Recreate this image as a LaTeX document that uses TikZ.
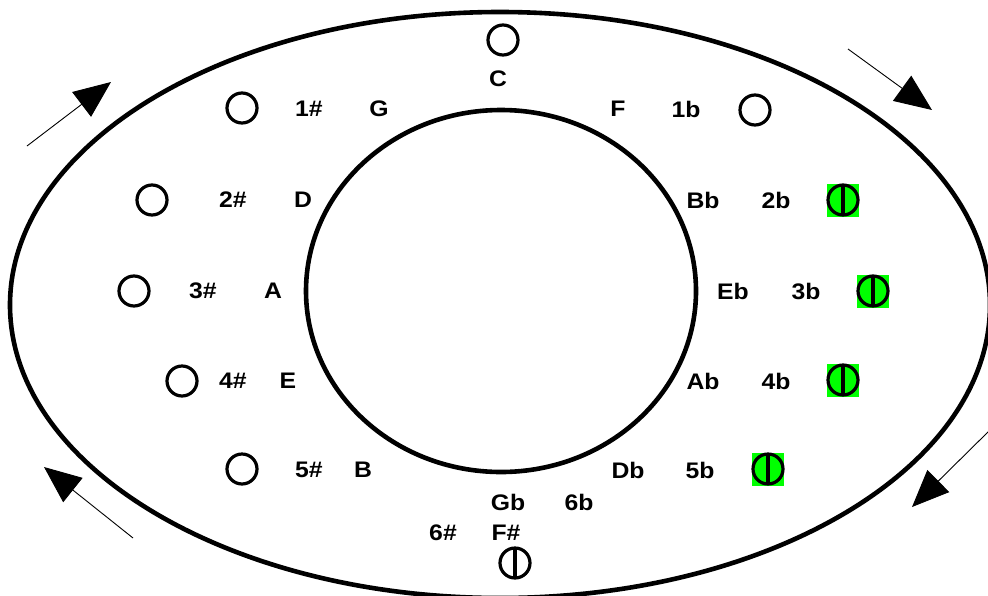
\documentclass[tikz,border=0pt]{standalone}
\usepackage{fontspec}
\setmainfont{Liberation Sans}
\newfontfamily\lblfont{Liberation Sans}[FakeStretch=1.1]
\usetikzlibrary{arrows.meta}
\begin{document}
\begin{tikzpicture}[x=1pt,y=-1pt,
  lbl/.style={font=\lblfont\bfseries\fontsize{22.5}{22.5}\selectfont, inner sep=0pt, anchor=center},
  keyring/.style={circle, draw, line width=3.2pt, minimum size=30pt, inner sep=0pt},
  keyflat/.style={keyring, path picture={\draw[line width=3.5pt] (path picture bounding box.north) -- (path picture bounding box.south);}},
  greenflat/.style={keyflat, fill=green},
  dirarrow/.style={line width=0.9pt, -{Triangle[length=37pt,width=31pt]}}]
\useasboundingbox (0,0) rectangle (988,595);

% outer and inner rings
\draw[line width=4.6pt] (500,305) ellipse [x radius=490, y radius=293];
\draw[line width=4.6pt] (501,291) ellipse [x radius=195, y radius=181];

% key markers
\node[keyring] (kC) at (503,40) {};
\node[keyring] (s1) at (242,108) {};
\node[keyring] (s2) at (152,200) {};
\node[keyring] (s3) at (134,291) {};
\node[keyring] (s4) at (182,381) {};
\node[keyring] (s5) at (242,469) {};
\node[keyring] (f1) at (755,110) {};
\fill[green] (827,184) rectangle (859,217);
\node[greenflat] (f2) at (843,200) {};
\fill[green] (857,275) rectangle (889,308);
\node[greenflat] (f3) at (873,291) {};
\fill[green] (827,364) rectangle (859,397);
\node[greenflat] (f4) at (843,380) {};
\fill[green] (752,453) rectangle (784,486);
\node[greenflat] (f5) at (768,469) {};
\node[keyflat] (k6) at (515,563) {};

% labels
\node[lbl] (tC) at (498,79) {C};
\node[lbl] (n1s) at (309,109) {1\#};
\node[lbl] (tG) at (379,109) {G};
\node[lbl] (tF) at (618,109) {F};
\node[lbl] (n1b) at (686,109) {1b};
\node[lbl] (n2s) at (233,200) {2\#};
\node[lbl] (tD) at (303,200) {D};
\node[lbl] (tBb) at (703,200) {Bb};
\node[lbl] (n2b) at (776,200) {2b};
\node[lbl] (n3s) at (203,291) {3\#};
\node[lbl] (tA) at (273,291) {A};
\node[lbl] (tEb) at (733,291) {Eb};
\node[lbl] (n3b) at (806,291) {3b};
\node[lbl] (n4s) at (233,381) {4\#};
\node[lbl] (tE) at (288,381) {E};
\node[lbl] (tAb) at (703,381) {Ab};
\node[lbl] (n4b) at (776,381) {4b};
\node[lbl] (n5s) at (309,470) {5\#};
\node[lbl] (tB) at (363,470) {B};
\node[lbl] (tDb) at (628,470) {Db};
\node[lbl] (n5b) at (700,470) {5b};
\node[lbl] (tGb) at (508,502) {Gb};
\node[lbl] (n6b) at (579,502) {6b};
\node[lbl] (n6s) at (443,533) {6\#};
\node[lbl] (tFs) at (506,533) {F\#};

% direction arrows
\coordinate (a1s) at (27,146);  \coordinate (a1e) at (111,82);
\coordinate (a2s) at (848,49);  \coordinate (a2e) at (932,110);
\coordinate (a3s) at (990,430); \coordinate (a3e) at (912,507);
\coordinate (a4s) at (133,538); \coordinate (a4e) at (44,467);
\draw[dirarrow] (a1s) -- (a1e);
\draw[dirarrow] (a2s) -- (a2e);
\draw[dirarrow] (a3s) -- (a3e);
\draw[dirarrow] (a4s) -- (a4e);
\end{tikzpicture}
\end{document}
